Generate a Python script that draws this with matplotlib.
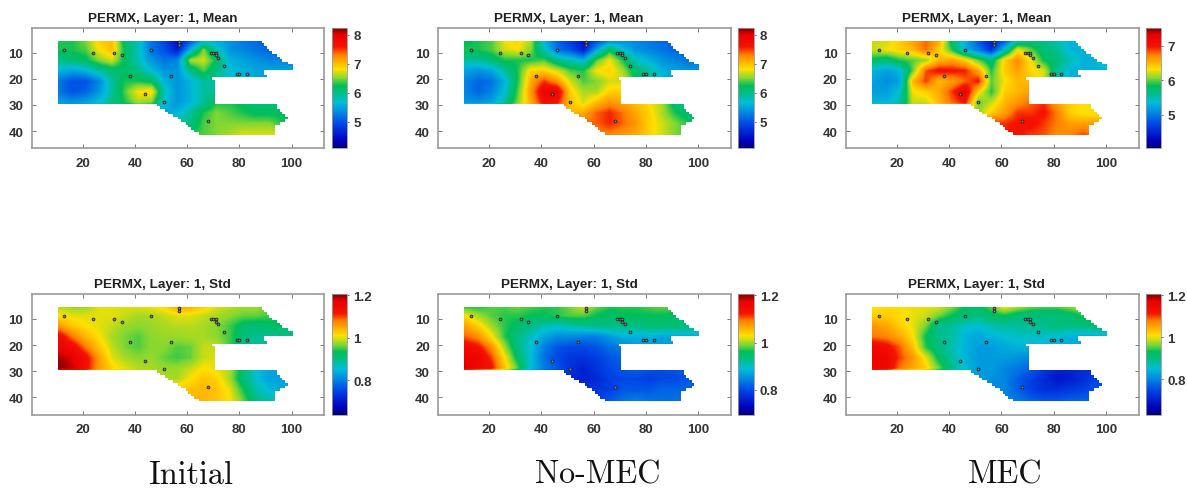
import numpy as np
import matplotlib
matplotlib.use("Agg")
import matplotlib.pyplot as plt
from matplotlib.colors import LinearSegmentedColormap
from matplotlib.patches import Polygon

W, H = 1187, 489

grid_x = [11, 16, 21, 26, 31, 36, 41, 46, 51, 56, 61, 66, 71, 76, 81, 86, 91, 96, 101]
grid_y = [5, 9, 13, 17, 21, 25, 29, 33, 37, 41]

# first and last grid block of each row, y = 6..41
field_y = list(range(6, 42))
field_left = [11] * 24 + [49, 50, 52, 53, 55, 57, 58, 60, 61, 62, 63, 65]
field_right = [88, 89, 90, 91, 92, 94, 95, 96, 98, 100, 100, 89, 89, 90, 69,
               70, 70, 70, 70, 70, 70, 70, 70, 70, 94, 94, 95, 96, 97, 98, 97,
               95, 93, 93, 93, 93]

well_x = [13, 24, 32, 35, 46, 57, 57, 38, 54, 44, 51, 68, 69, 70, 71, 71, 72, 74, 79, 80, 83]
well_y = [9, 10, 10, 11, 9, 6, 7, 19, 19, 26, 29, 36, 10, 10, 10, 11, 12, 15, 18, 18, 18]

mean_initial = [
    [6.3, 6.3, 6.5, 6.9, 7.0, 6.1, 5.8, 5.2, 4.9, 4.4, 4.9, 5.4, 5.5, 5.4, 5.2, 5.1, 5.1, 5.1, 5.1],
    [6.3, 6.3, 6.4, 6.8, 7.0, 6.2, 5.8, 5.2, 5.0, 4.6, 5.6, 6.5, 5.8, 5.4, 5.3, 5.2, 5.1, 5.1, 5.1],
    [6.0, 6.1, 6.2, 6.5, 6.7, 6.2, 5.8, 5.4, 5.2, 5.3, 6.6, 6.7, 6.2, 5.6, 5.5, 5.4, 5.3, 5.3, 5.3],
    [5.6, 5.5, 5.6, 5.9, 6.1, 6.2, 6.0, 5.7, 5.4, 5.4, 6.0, 6.4, 6.0, 5.7, 5.6, 5.5, 5.5, 5.5, 5.5],
    [5.2, 5.0, 5.0, 5.3, 5.9, 6.3, 6.3, 6.2, 5.6, 5.4, 5.6, 5.9, 5.9, 5.7, 5.6, 5.5, 5.5, 5.5, 5.5],
    [5.2, 5.0, 5.1, 5.4, 5.9, 6.4, 6.8, 6.9, 5.8, 5.4, 5.6, 5.9, 5.9, 6.0, 6.1, 6.1, 6.1, 6.1, 6.1],
    [5.5, 5.4, 5.5, 5.7, 6.0, 6.3, 6.6, 6.5, 5.7, 5.4, 5.6, 5.9, 6.3, 6.3, 6.2, 6.1, 6.1, 6.1, 6.1],
    [5.5, 5.5, 5.5, 5.5, 5.5, 5.5, 5.5, 5.5, 5.5, 5.6, 5.9, 6.3, 6.5, 6.4, 6.3, 6.2, 6.2, 6.2, 6.2],
    [5.9, 5.9, 5.9, 5.9, 5.9, 5.9, 5.9, 5.9, 5.9, 5.9, 6.0, 6.4, 6.5, 6.5, 6.5, 6.5, 6.5, 6.3, 6.3],
    [6.3, 6.3, 6.3, 6.3, 6.3, 6.3, 6.3, 6.3, 6.3, 6.3, 6.3, 6.4, 6.5, 6.6, 6.7, 6.7, 6.7, 6.7, 6.7],
]
mean_nomec = [
    [6.2, 6.3, 6.4, 6.8, 6.9, 6.6, 5.6, 5.1, 4.8, 4.5, 4.8, 5.2, 5.3, 5.3, 5.2, 5.1, 5.1, 5.1, 5.1],
    [6.3, 6.3, 6.4, 6.7, 6.8, 6.5, 5.8, 5.2, 5.0, 4.6, 5.5, 6.2, 5.7, 5.4, 5.3, 5.2, 5.1, 5.1, 5.1],
    [5.9, 5.9, 6.1, 6.3, 6.3, 6.3, 6.4, 6.0, 5.8, 5.6, 6.4, 6.8, 6.3, 5.8, 5.6, 5.4, 5.3, 5.2, 5.3],
    [5.5, 5.4, 5.5, 5.9, 6.3, 6.9, 6.9, 6.7, 6.4, 6.3, 6.8, 6.9, 6.6, 6.1, 5.9, 5.6, 5.5, 5.4, 5.4],
    [5.3, 5.1, 5.2, 5.6, 6.3, 7.1, 7.5, 7.2, 6.7, 6.4, 6.5, 6.7, 6.7, 6.3, 5.9, 5.6, 5.5, 5.4, 5.4],
    [5.3, 5.1, 5.3, 5.7, 6.4, 7.2, 7.9, 7.9, 6.9, 6.6, 6.6, 6.9, 6.9, 7.0, 6.8, 6.6, 6.1, 6.0, 6.0],
    [5.4, 5.4, 5.5, 5.9, 6.5, 7.1, 7.7, 7.6, 7.0, 6.7, 7.0, 7.2, 7.1, 7.0, 6.8, 6.6, 6.1, 6.0, 6.0],
    [7.0, 7.0, 7.0, 7.0, 7.0, 7.0, 7.0, 7.0, 7.0, 7.1, 7.4, 7.55, 7.35, 7.1, 6.9, 6.6, 6.3, 6.1, 6.1],
    [7.4, 7.4, 7.4, 7.4, 7.4, 7.4, 7.4, 7.4, 7.4, 7.4, 7.4, 7.55, 7.4, 7.2, 6.9, 6.7, 6.5, 6.3, 6.3],
    [7.3, 7.3, 7.3, 7.3, 7.3, 7.3, 7.3, 7.3, 7.3, 7.3, 7.3, 7.3, 7.2, 7.1, 6.9, 6.7, 6.5, 6.4, 6.4],
]
mean_mec = [
    [6.2, 6.2, 6.4, 6.6, 6.8, 6.6, 5.7, 5.3, 4.8, 4.4, 4.7, 5.3, 5.6, 5.6, 5.5, 5.3, 5.3, 5.3, 5.3],
    [6.2, 6.3, 6.4, 6.5, 6.8, 6.4, 5.9, 5.3, 5.0, 4.6, 5.4, 6.3, 6.0, 5.7, 5.6, 5.3, 5.3, 5.3, 5.3],
    [5.8, 5.7, 5.9, 6.0, 6.1, 6.5, 6.6, 6.4, 6.0, 5.7, 6.4, 6.7, 6.3, 5.85, 5.7, 5.5, 5.3, 5.3, 5.6],
    [5.3, 5.2, 5.3, 6.0, 6.85, 7.05, 7.0, 6.95, 6.6, 5.9, 6.4, 6.6, 6.35, 6.25, 5.6, 5.3, 5.3, 5.3, 5.3],
    [5.2, 5.1, 5.2, 6.5, 6.9, 6.5, 6.6, 6.8, 7.0, 6.0, 6.3, 6.5, 6.5, 6.2, 5.6, 5.3, 5.3, 5.3, 5.3],
    [5.2, 5.2, 5.4, 6.3, 6.4, 6.55, 6.9, 7.25, 6.4, 5.9, 6.4, 6.5, 6.6, 6.8, 6.6, 6.4, 6.3, 6.3, 6.3],
    [5.3, 5.3, 5.5, 6.2, 6.2, 6.5, 6.8, 7.0, 6.0, 6.2, 6.5, 6.65, 6.8, 6.9, 6.6, 6.4, 6.3, 6.3, 6.3],
    [6.1, 6.1, 6.1, 6.1, 6.1, 6.1, 6.1, 6.1, 6.1, 6.4, 6.6, 6.9, 6.9, 7.0, 6.75, 6.4, 6.3, 6.3, 6.3],
    [6.9, 6.9, 6.9, 6.9, 6.9, 6.9, 6.9, 6.9, 6.9, 6.9, 6.9, 7.0, 7.05, 6.9, 6.75, 6.6, 6.6, 6.6, 6.6],
    [7.0, 7.0, 7.0, 7.0, 7.0, 7.0, 7.0, 7.0, 7.0, 7.0, 7.0, 7.0, 6.9, 6.85, 6.7, 6.7, 6.85, 6.7, 6.7],
]
std_initial = [
    [.98, .97, .97, 1.0, 1.0, 1.0, 1.0, 1.01, 1.02, 1.06, 1.05, 1.03, 1.0, .99, .98, .98, .97, .97, .97],
    [1.01, 1.0, 1.0, 1.0, 1.0, .99, .98, .98, .99, 1.0, 1.0, .99, .98, .97, .96, .96, .95, .94, .94],
    [1.06, 1.03, 1.01, 1.0, .99, .975, .97, .975, .98, .985, .985, .98, .97, .95, .92, .91, .92, .93, .94],
    [1.14, 1.08, 1.04, 1.01, .98, .965, .955, .97, .975, .975, .98, .98, .97, .95, .91, .89, .89, .89, .89],
    [1.16, 1.14, 1.08, 1.03, .99, .965, .955, .97, .97, .955, .96, .99, .99, .95, .91, .89, .89, .89, .89],
    [1.19, 1.17, 1.13, 1.06, 1.0, .98, .97, .975, .96, .95, .96, .99, 1.0, .98, .92, .86, .83, .83, .83],
    [1.2, 1.18, 1.13, 1.06, 1.02, 1.0, .985, .98, .975, .975, .99, 1.01, 1.0, .98, .92, .86, .83, .83, .83],
    [.98, .98, .98, .98, .98, .98, .98, .98, .98, .98, 1.01, 1.03, 1.02, .98, .91, .86, .83, .83, .83],
    [1.03, 1.03, 1.03, 1.03, 1.03, 1.03, 1.03, 1.03, 1.03, 1.03, 1.03, 1.04, 1.03, 1.0, .94, .88, .85, .83, .83],
    [1.04, 1.04, 1.04, 1.04, 1.04, 1.04, 1.04, 1.04, 1.04, 1.04, 1.04, 1.04, 1.03, 1.01, .96, .9, .88, .86, .86],
]
std_nomec = [
    [.96, .96, .98, .98, .99, .98, .97, .97, .99, 1.02, .99, .97, .97, .97, .98, .99, .99, .99, .99],
    [1.03, 1.0, .98, .97, .97, .96, .96, .97, .98, .98, .96, .95, .96, .96, .96, .96, .95, .95, .95],
    [1.07, 1.04, 1.0, .97, .95, .93, .91, .9, .91, .92, .93, .93, .93, .93, .94, .94, .94, .94, .94],
    [1.1, 1.08, 1.03, .97, .93, .9, .87, .85, .85, .84, .84, .86, .88, .88, .88, .87, .87, .87, .87],
    [1.15, 1.13, 1.08, 1.0, .93, .89, .84, .81, .8, .8, .81, .83, .84, .86, .86, .86, .86, .86, .86],
    [1.17, 1.16, 1.11, 1.03, .95, .89, .83, .8, .78, .78, .79, .81, .82, .82, .81, .8, .81, .81, .81],
    [1.18, 1.15, 1.13, 1.05, .98, .89, .84, .81, .78, .76, .78, .8, .81, .82, .81, .8, .81, .81, .81],
    [.77, .77, .77, .77, .77, .77, .77, .77, .77, .76, .77, .79, .8, .8, .79, .8, .8, .81, .81],
    [.78, .78, .78, .78, .78, .78, .78, .78, .78, .78, .78, .79, .81, .81, .81, .82, .82, .82, .82],
    [.79, .79, .79, .79, .79, .79, .79, .79, .79, .79, .79, .81, .83, .84, .83, .83, .83, .83, .83],
]
std_mec = [
    [1.0, 1.01, 1.01, 1.0, 1.0, 1.0, .97, .93, .92, .96, 1.02, .99, .97, .96, .96, .98, .99, .99, .99],
    [1.02, 1.02, 1.01, 1.0, .99, .96, .93, .91, .9, .92, .93, .91, .9, .9, .9, .91, .94, .95, .97],
    [1.06, 1.05, 1.02, 1.0, .96, .89, .88, .86, .85, .87, .88, .88, .89, .89, .9, .9, .9, .91, .94],
    [1.08, 1.07, 1.05, 1.01, .93, .89, .88, .84, .83, .84, .85, .86, .86, .86, .85, .84, .83, .83, .83],
    [1.15, 1.13, 1.09, 1.03, .94, .9, .87, .84, .82, .82, .83, .84, .84, .84, .84, .83, .83, .83, .83],
    [1.16, 1.15, 1.1, 1.06, 1.0, .92, .88, .84, .82, .82, .82, .81, .8, .73, .71, .71, .72, .72, .72],
    [1.16, 1.15, 1.08, 1.05, 1.02, .96, .89, .85, .82, .82, .8, .79, .77, .73, .71, .71, .72, .72, .72],
    [.82, .82, .82, .82, .82, .82, .82, .82, .82, .81, .8, .77, .74, .72, .69, .7, .72, .74, .74],
    [.8, .8, .8, .8, .8, .8, .8, .8, .8, .8, .8, .77, .74, .72, .72, .73, .74, .76, .76],
    [.8, .8, .8, .8, .8, .8, .8, .8, .8, .8, .8, .79, .77, .76, .76, .77, .77, .77, .77],
]

panels = [mean_initial, mean_nomec, mean_mec, std_initial, std_nomec, std_mec]
titles = ["PERMX, Layer: 1, Mean"] * 3 + ["PERMX, Layer: 1, Std"] * 3
color_limits = [(4.09, 8.25), (4.09, 8.25), (4.03, 7.53), (0.64, 1.205), (0.696, 1.205), (0.632, 1.205)]
color_ticks = [[5, 6, 7, 8], [5, 6, 7, 8], [5, 6, 7], [0.8, 1, 1.2], [0.8, 1, 1.2], [0.8, 1, 1.2]]
captions = ["Initial", "No-MEC", "MEC"]

cmap = LinearSegmentedColormap.from_list("permx", [
    (0.0, "#000078"), (0.06, "#0000be"), (0.2, "#0046e6"), (0.3, "#008ce1"),
    (0.38, "#00bed7"), (0.46, "#00be82"), (0.52, "#00be5a"), (0.58, "#82d732"),
    (0.655, "#ffe100"), (0.78, "#ff7d00"), (0.84, "#f51400"), (0.94, "#eb0000"),
    (1.0, "#780000")], N=256)

axes_left = [31.7, 438.3, 846.0]
axes_top = [28.7, 295.0]
axes_w, axes_h = 292.5, 120.5
cbar_gap, cbar_w = 7.5, 15.3
text_col = "#333333"
edge_col = "#999999"


def px_rect(left, top, w, h):
    return [left / W, 1 - (top + h) / H, w / W, h / H]


def field_outline():
    xs, ys = [], []
    for y, r in zip(field_y, field_right):
        xs += [r + 0.5, r + 0.5]
        ys += [y - 0.5, y + 0.5]
    for y, l in zip(field_y[::-1], field_left[::-1]):
        xs += [l - 0.5, l - 0.5]
        ys += [y + 0.5, y - 0.5]
    return np.column_stack([xs, ys])


plt.rcParams["font.family"] = ["Liberation Sans", "DejaVu Sans"]
fig = plt.figure(figsize=(W / 100, H / 100), dpi=100)

for i, values in enumerate(panels):
    left = axes_left[i % 3]
    top = axes_top[i // 3]
    ax = fig.add_axes(px_rect(left, top, axes_w, axes_h))
    vmin, vmax = color_limits[i]
    im = ax.imshow(np.array(values), cmap=cmap, vmin=vmin, vmax=vmax, aspect="auto",
                   interpolation="bilinear", interpolation_stage="data",
                   extent=[grid_x[0] - 2.5, grid_x[-1] + 2.5, grid_y[-1] + 2, grid_y[0] - 2])
    im.set_clip_path(Polygon(field_outline(), closed=True, transform=ax.transData))
    ax.scatter(well_x, well_y, s=4, c="#888888", edgecolors="#222222", linewidths=0.6, zorder=3)
    ax.set_xlim(0.5, 112.5)
    ax.set_ylim(46.5, 0.5)
    ax.set_xticks([20, 40, 60, 80, 100])
    ax.set_yticks([10, 20, 30, 40])
    ax.tick_params(direction="in", length=3, width=0.7, color="#777777", top=True, right=True,
                   labelsize=9.5, labelcolor=text_col, pad=6)
    for label in ax.get_xticklabels() + ax.get_yticklabels():
        label.set_fontweight("bold")
    for spine in ax.spines.values():
        spine.set_color(edge_col)
        spine.set_linewidth(1.2)
    ax.set_title(titles[i], x=0.447, fontsize=9.7, fontweight="bold", color="#222222", pad=5)

    cax = fig.add_axes(px_rect(left + axes_w + cbar_gap, top, cbar_w, axes_h))
    cax.set_facecolor("#000078")
    cb = fig.colorbar(im, cax=cax)
    cb.set_ticks(color_ticks[i], labels=[str(t) for t in color_ticks[i]])
    cb.outline.set_edgecolor(edge_col)
    cb.outline.set_linewidth(0.6)
    cax.tick_params(length=1.5, width=0.6, color="#555555", labelsize=9.6, labelcolor=text_col, pad=3)
    for label in cax.get_yticklabels():
        label.set_fontweight("bold")

for i, caption in enumerate(captions):
    fig.text((axes_left[i] + 159.3) / W, 1 - 475 / H, caption, family="cmr10", fontsize=23.2,
             ha="center", va="center", color="#111111")

fig.savefig("out.png", dpi=100)
